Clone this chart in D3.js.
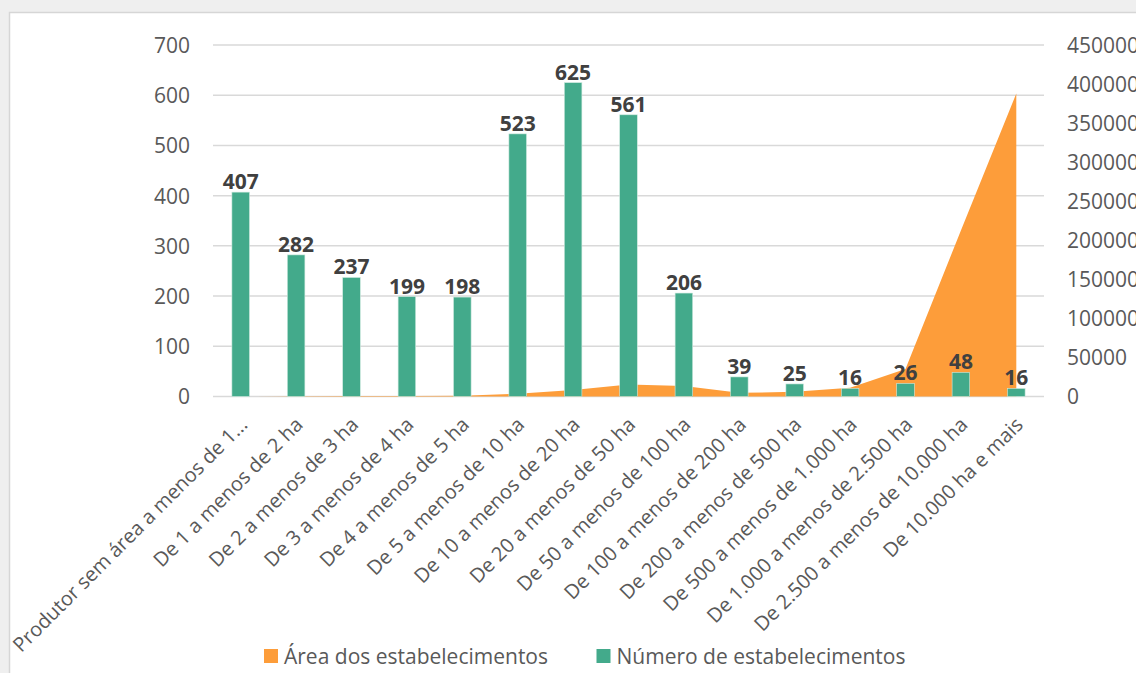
<!DOCTYPE html>
<html>
<head>
<meta charset="utf-8">
<script src="https://cdn.jsdelivr.net/npm/d3@7"></script>
<style>
  html, body { margin: 0; padding: 0; background: #efefef; }
  svg { display: block; }
  text { font-family: "Open Sans", "Noto Sans", sans-serif; }
</style>
</head>
<body>
<svg id="chart" width="1136" height="673"></svg>
<script>
const categories = [
  "Produtor sem área a menos de 1...",
  "De 1 a menos de 2 ha",
  "De 2 a menos de 3 ha",
  "De 3 a menos de 4 ha",
  "De 4 a menos de 5 ha",
  "De 5 a menos de 10 ha",
  "De 10 a menos de 20 ha",
  "De 20 a menos de 50 ha",
  "De 50 a menos de 100 ha",
  "De 100 a menos de 200 ha",
  "De 200 a menos de 500 ha",
  "De 500 a menos de 1.000 ha",
  "De 1.000 a menos de 2.500 ha",
  "De 2.500 a menos de 10.000 ha",
  "De 10.000 ha e mais"
];
const numeroEstabelecimentos = [407, 282, 237, 199, 198, 523, 625, 561, 206, 39, 25, 16, 26, 48, 16];
const areaEstabelecimentos = [0, 420, 590, 700, 890, 3600, 8300, 15400, 13400, 4700, 6000, 11100, 35200, 212500, 388000];
const leftTicks = [0, 100, 200, 300, 400, 500, 600, 700];
const rightTicks = [0, 50000, 100000, 150000, 200000, 250000, 300000, 350000, 400000, 450000];
const seriesNames = ["Área dos estabelecimentos", "Número de estabelecimentos"];

const colorArea = "#FD9D3A";
const colorBar = "#43AA8B";
const gridColor = "#D9D9D9";
const textColor = "#595959";

const svg = d3.select("#chart");

// chart frame
svg.append("rect").attr("x", 9.5).attr("y", 12.5).attr("width", 1140).attr("height", 680)
  .attr("fill", "#ffffff").attr("stroke", "#d6d6d6").attr("stroke-width", 1.5);

const plot = { left: 213, right: 1044, top: 45, bottom: 396.5 };

const x = d3.scaleBand().domain(categories).range([plot.left, plot.right]).paddingInner(0).paddingOuter(0);
const yL = d3.scaleLinear().domain([0, 700]).range([plot.bottom, plot.top]);
const yR = d3.scaleLinear().domain([0, 450000]).range([plot.bottom, plot.top]);
const cx = d => x(d) + x.bandwidth() / 2;

// gridlines
svg.append("g").selectAll("line").data(leftTicks).join("line")
  .attr("x1", plot.left).attr("x2", plot.right)
  .attr("y1", d => yL(d)).attr("y2", d => yL(d))
  .attr("stroke", gridColor).attr("stroke-width", 1.5);

// area
const areaGen = d3.area()
  .x((d, i) => cx(categories[i]))
  .y0(yR(0))
  .y1(d => yR(d));
svg.append("path").datum(areaEstabelecimentos)
  .attr("d", areaGen).attr("fill", colorArea);

// bars
const bw = 17.6;
svg.append("g").selectAll("rect").data(numeroEstabelecimentos).join("rect")
  .attr("x", (d, i) => cx(categories[i]) - bw / 2)
  .attr("y", d => yL(d))
  .attr("width", bw)
  .attr("height", d => yL(0) - yL(d))
  .attr("fill", colorBar)
  .attr("stroke", "#cfe9df").attr("stroke-width", 0.6);

// data labels
svg.append("g").selectAll("text").data(numeroEstabelecimentos).join("text")
  .attr("x", (d, i) => cx(categories[i]))
  .attr("y", d => yL(d) - 3)
  .attr("text-anchor", "middle")
  .attr("font-size", 21).attr("font-weight", "bold")
  .attr("fill", "#404040")
  .text(d => d);

// left axis
const axL = d3.axisLeft(yL).tickValues(leftTicks).tickSize(0).tickPadding(0);
const gL = svg.append("g").attr("transform", `translate(190,0)`).call(axL);
gL.select(".domain").remove();
gL.selectAll("text").attr("font-size", 21).attr("fill", textColor)
  .attr("font-family", "Open Sans, sans-serif").attr("dy", "0.35em");

// right axis
const axR = d3.axisRight(yR).tickValues(rightTicks).tickSize(0).tickPadding(0).tickFormat(d3.format("d"));
const gR = svg.append("g").attr("transform", `translate(1067,0)`).call(axR);
gR.select(".domain").remove();
gR.selectAll("text").attr("font-size", 21).attr("fill", textColor)
  .attr("font-family", "Open Sans, sans-serif").attr("dy", "0.35em");

// category labels
svg.append("g").selectAll("text").data(categories).join("text")
  .attr("transform", d => `translate(${cx(d) + 8},426) rotate(-45)`)
  .attr("text-anchor", "end")
  .attr("font-size", 20).attr("fill", textColor)
  .text(d => d);

// legend
const legend = [
  { name: seriesNames[0], color: colorArea, x: 264 },
  { name: seriesNames[1], color: colorBar, x: 596.5 }
];
const lg = svg.append("g").selectAll("g").data(legend).join("g")
  .attr("transform", d => `translate(${d.x},649)`);
lg.append("rect").attr("width", 14).attr("height", 14).attr("fill", d => d.color);
lg.append("text").attr("x", 20).attr("y", 14.5)
  .attr("font-size", 21).attr("fill", textColor)
  .text(d => d.name);
</script>
</body>
</html>
